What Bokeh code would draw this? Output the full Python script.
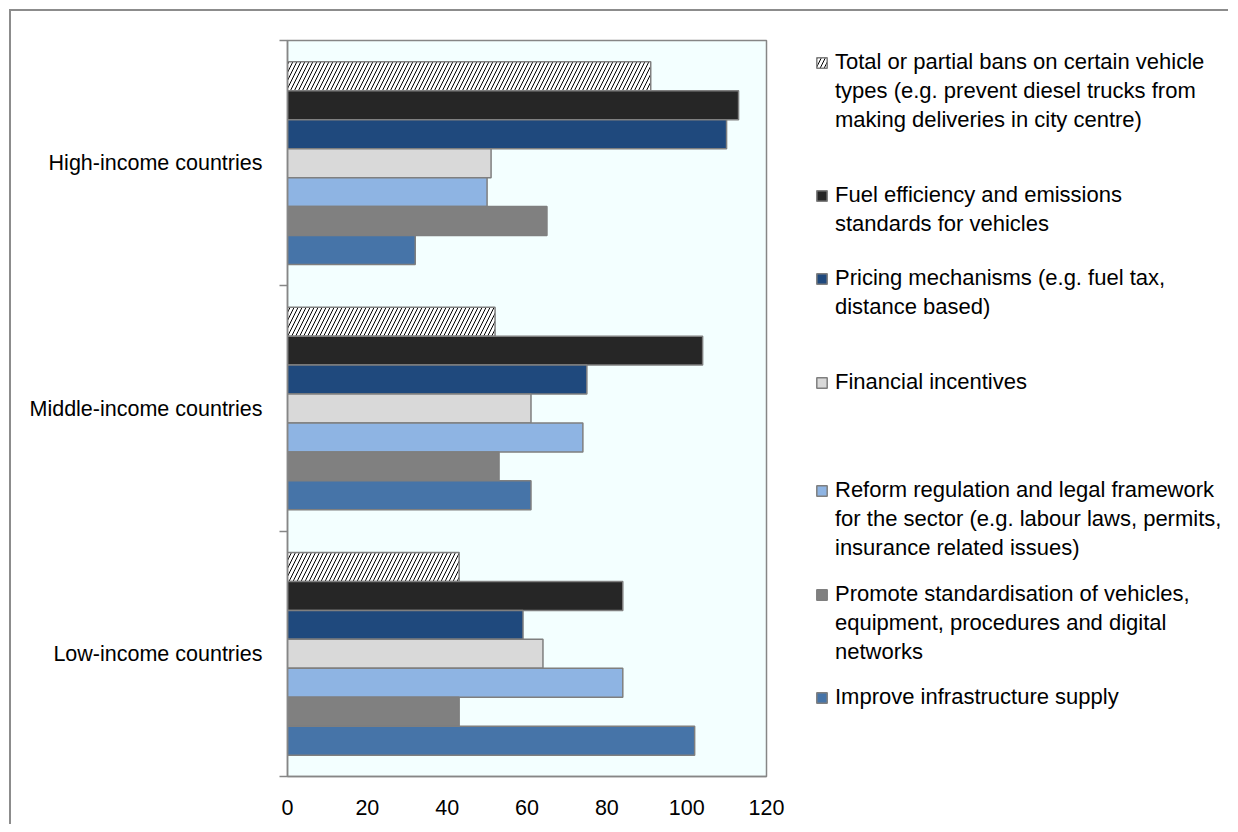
from bokeh.plotting import figure
from bokeh.layouts import row
from bokeh.models import ColumnDataSource, Range1d, FixedTicker, Legend, LegendItem
from bokeh.transform import dodge
from bokeh.embed import file_html
from bokeh.resources import INLINE

# ---------------- data ----------------
categories = ["High-income countries", "Middle-income countries", "Low-income countries"]

series_labels = [
    "Total or partial bans on certain vehicle\ntypes (e.g. prevent diesel trucks from\nmaking deliveries in city centre)",
    "Fuel efficiency and emissions\nstandards for vehicles",
    "Pricing mechanisms (e.g. fuel tax,\ndistance based)",
    "Financial incentives",
    "Reform regulation and legal framework\nfor the sector (e.g. labour laws, permits,\ninsurance related issues)",
    "Promote standardisation of vehicles,\nequipment, procedures and digital\nnetworks",
    "Improve infrastructure supply",
]

bans = [91, 52, 43]
fuel_efficiency = [113, 104, 84]
pricing = [110, 75, 59]
financial = [51, 61, 64]
reform = [50, 74, 84]
standardisation = [65, 53, 43]
infrastructure = [32, 61, 102]

x_ticks = [0, 20, 40, 60, 80, 100, 120]

series_values = [bans, fuel_efficiency, pricing, financial, reform, standardisation, infrastructure]

# ---------------- styles / layout ----------------
fills = ["#FFFFFF", "#262626", "#1F497D", "#D9D9D9", "#8EB4E3", "#808080", "#4674A8"]
hatches = ["/", " ", " ", " ", " ", " ", " "]
FONT = "Liberation Sans"
GRAY = "#868686"
FRAME_W, FRAME_H = 479, 736
BORDER_TOP, BORDER_BOTTOM = 29, 48
LEG_W = 442
LINE_H = 29
LEGEND_X = 29                                        # px right of the legend panel's left edge
legend_line1_y = [22, 155, 238, 342, 450, 554, 657]  # px below the frame top

n_cat = len(categories)
n_ser = len(series_values)
cat_y = [n_cat - i - 0.5 for i in range(n_cat)]
boundaries = [float(i) for i in range(n_cat + 1)]
bar_h = 0.118

def bar_style(j):
    return dict(fill_color=fills[j], line_color="#7F7F7F", line_width=1.5,
                hatch_pattern=hatches[j], hatch_color="black",
                hatch_weight=1.0, hatch_scale=8)

p = figure(
    frame_width=FRAME_W, frame_height=FRAME_H,
    min_border_left=276, min_border_right=20,
    min_border_top=BORDER_TOP, min_border_bottom=BORDER_BOTTOM,
    x_range=Range1d(0, 120), y_range=Range1d(0, n_cat),
    output_backend="svg", toolbar_location=None,
    background_fill_color="#F3FFFF", border_fill_color="white",
    outline_line_color=GRAY, outline_line_width=1.5,
)
p.xgrid.visible = False
p.ygrid.visible = False

# legend panel: swatch renderers share the bar data but are hidden
lf = figure(
    frame_width=LEG_W, frame_height=FRAME_H,
    min_border_left=0, min_border_right=0,
    min_border_top=BORDER_TOP, min_border_bottom=BORDER_BOTTOM,
    x_axis_type=None, y_axis_type=None,
    x_range=Range1d(0, 120), y_range=Range1d(0, n_cat),
    output_backend="svg", toolbar_location=None,
    background_fill_color="white", border_fill_color="white",
    outline_line_color=None,
)
lf.xgrid.visible = False
lf.ygrid.visible = False

for j in range(n_ser):
    src = ColumnDataSource(dict(y=cat_y, v=series_values[j], cat=categories))
    offset = ((n_ser - 1) / 2 - j) * bar_h
    p.hbar(y=dodge("y", offset), right="v", left=0, height=bar_h, source=src, **bar_style(j))
    swatch = lf.hbar(y=dodge("y", offset), right="v", left=0, height=bar_h, source=src,
                     **bar_style(j))
    swatch.visible = False

    lines = series_labels[j].split("\n")
    its = [LegendItem(label=lines[0], renderers=[swatch])]
    its += [LegendItem(label=t, renderers=[]) for t in lines[1:]]
    top = legend_line1_y[j] - LINE_H / 2
    vy = FRAME_H - top - LINE_H * len(lines)
    lg = Legend(
        items=its, location=(LEGEND_X, vy), padding=0, margin=0, spacing=0,
        glyph_width=13, glyph_height=13, label_height=LINE_H, label_standoff=7,
        label_text_font=FONT, label_text_font_size="22px",
        label_text_color="black", click_policy="none",
        inactive_fill_alpha=0.0,
        border_line_color=None, background_fill_alpha=0,
    )
    lf.add_layout(lg)

# x axis
xa = p.xaxis[0]
xa.ticker = FixedTicker(ticks=x_ticks)
xa.axis_line_color = GRAY
xa.axis_line_width = 1.5
xa.major_tick_out = 0
xa.major_tick_in = 0
xa.minor_tick_line_color = None
xa.major_label_standoff = 23
xa.major_label_text_font = FONT
xa.major_label_text_font_size = "21.5px"
xa.major_label_text_color = "black"

# y axis
ya = p.yaxis[0]
ya.ticker = FixedTicker(ticks=cat_y, minor_ticks=boundaries)
ya.major_label_overrides = {cat_y[i]: categories[i] for i in range(n_cat)}
ya.axis_line_color = GRAY
ya.axis_line_width = 1.5
ya.major_tick_out = 0
ya.major_tick_in = 0
ya.minor_tick_out = 8
ya.minor_tick_in = 0
ya.minor_tick_line_color = GRAY
ya.minor_tick_line_width = 1.5
ya.major_label_standoff = 17
ya.major_label_text_font = FONT
ya.major_label_text_font_size = "21.5px"
ya.major_label_text_color = "black"

layout = row(p, lf, spacing=0)
layout.styles = {
    "margin-left": "9px", "margin-top": "9px",
    "border-left": "2px solid #8c8c8c", "border-top": "2px solid #8c8c8c",
}

open("out.html", "w").write(file_html(layout, INLINE))
